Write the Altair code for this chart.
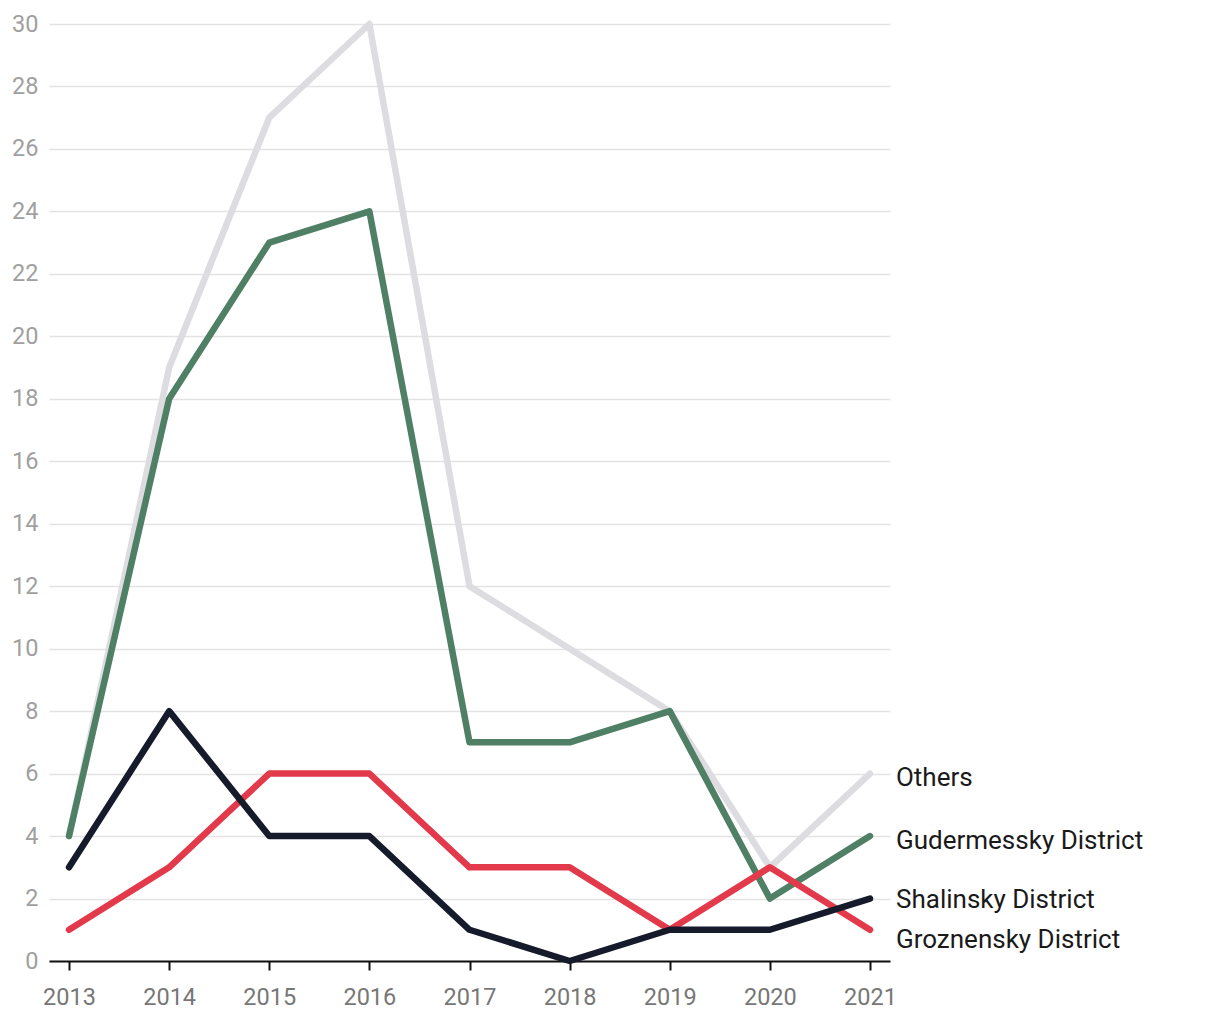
import altair as alt
import pandas as pd

years = [2013, 2014, 2015, 2016, 2017, 2018, 2019, 2020, 2021]
others = [4, 19, 27, 30, 12, 10, 8, 3, 6]
gudermessky = [4, 18, 23, 24, 7, 7, 8, 2, 4]
groznensky = [1, 3, 6, 6, 3, 3, 1, 3, 1]
shalinsky = [3, 8, 4, 4, 1, 0, 1, 1, 2]

series_names = ["Others", "Gudermessky District", "Groznensky District", "Shalinsky District"]
series_values = [others, gudermessky, groznensky, shalinsky]
series_colors = ["#dddde1", "#4f7f64", "#e23a4b", "#161b2b"]

rows = []
for order, (name, vals) in enumerate(zip(series_names, series_values)):
    for y, v in zip(years, vals):
        rows.append({"year": str(y), "value": v, "series": name, "order": order})
df = pd.DataFrame(rows)

FONT = "Roboto"

x_enc = alt.X("year:O", scale=alt.Scale(type="point", padding=0.2),
              axis=alt.Axis(title=None, labelAngle=0, labelFontSize=23.5, labelColor="#777777",
                            labelFont=FONT, domainColor="#111111", domainWidth=2,
                            tickColor="#111111", tickWidth=2, tickSize=9,
                            labelPadding=15, grid=False))
y_enc = alt.Y("value:Q", scale=alt.Scale(domain=[0, 30], nice=False),
              axis=alt.Axis(title=None, values=list(range(0, 31, 2)), labelFontSize=23.5,
                            labelColor="#a0a0a0", labelFont=FONT, domain=False, ticks=False,
                            labelPadding=11, gridColor="#e3e3e3", gridWidth=1.5))
color_enc = alt.Color("series:N", scale=alt.Scale(domain=series_names, range=series_colors), legend=None)

lines = []
for name in series_names:
    lines.append(
        alt.Chart(df).transform_filter(alt.datum.series == name)
        .mark_line(strokeWidth=6.5, strokeCap="round", strokeJoin="round")
        .encode(x=x_enc, y=y_enc, color=color_enc)
    )

last = df[df["year"] == "2021"]
label_dy = {"Others": 4, "Gudermessky District": 5, "Shalinsky District": 1, "Groznensky District": 10}
labels = []
for name in series_names:
    labels.append(
        alt.Chart(last).transform_filter(alt.datum.series == name).mark_text(
            align="left", baseline="middle", dx=26, dy=label_dy[name], fontSize=26,
            font=FONT, color="#1a1a1a"
        ).encode(x=x_enc, y=y_enc, text="series:N")
    )

chart = alt.layer(*lines, *labels).properties(
    width=841, height=937, background="white",
    padding={"left": 3, "top": 4, "right": 5, "bottom": 5}
).configure_view(stroke=None)

chart.save("out.html", embed_options={"renderer": "svg", "actions": False})
